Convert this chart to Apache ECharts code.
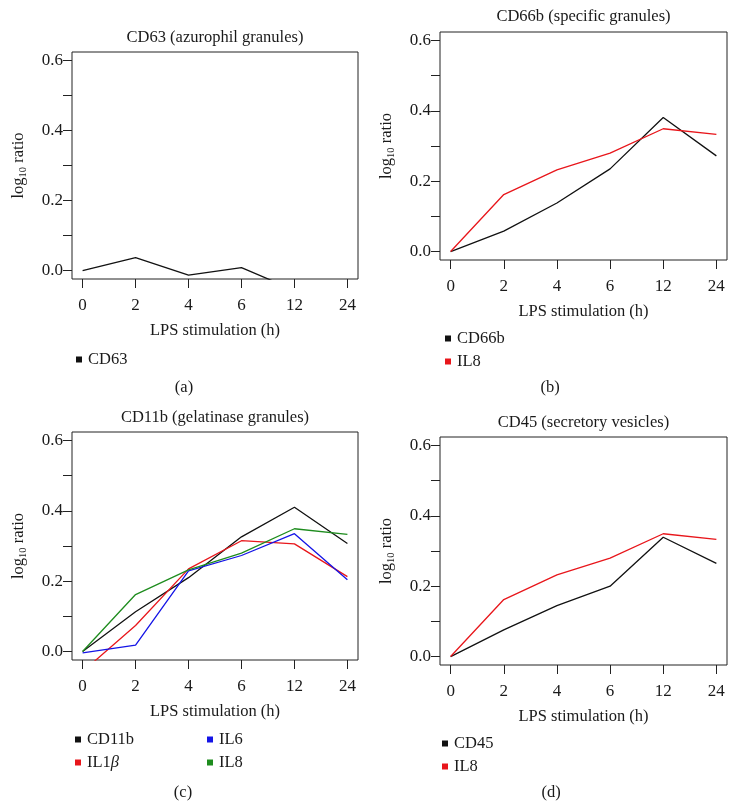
<!DOCTYPE html>
<html>
<head>
<meta charset="utf-8">
<script src="https://cdn.jsdelivr.net/npm/echarts@6/dist/echarts.min.js"></script>
<style>
html,body{margin:0;padding:0;background:#fff;}
#chart{width:738px;height:810px;}
</style>
</head>
<body>
<div id="chart"></div>
<script>
// ---- data ----
const hourLabels = ['0', '2', '4', '6', '12', '24'];
const yTickValues = [0, 0.1, 0.2, 0.3, 0.4, 0.5, 0.6];
const yLabelValues = [0, 0.2, 0.4, 0.6];
const cd63 = [0, 0.037, -0.013, 0.0085, -0.056, -0.06];
const cd66b = [0, 0.058, 0.138, 0.235, 0.381, 0.272];
const il8 = [0, 0.162, 0.232, 0.280, 0.349, 0.333];
const cd11b = [0, 0.113, 0.210, 0.326, 0.410, 0.307];
const il1b = [-0.057, 0.074, 0.235, 0.315, 0.306, 0.213];
const il6 = [-0.004, 0.018, 0.229, 0.273, 0.335, 0.204];
const cd45 = [0, 0.076, 0.145, 0.200, 0.339, 0.265];
const panelTitles = ['CD63 (azurophil granules)', 'CD66b (specific granules)', 'CD11b (gelatinase granules)', 'CD45 (secretory vesicles)'];
const panelTags = ['(a)', '(b)', '(c)', '(d)'];

// ---- style ----
const FONT = 'Liberation Serif';
const FS = 16.5;
const FS_TICK = 17;
const TXT = '#1a1a1a';
const C_BLACK = '#111111', C_RED = '#e8161b', C_BLUE = '#1414e6', C_GREEN = '#1e8c1e';

const grids = [
  {left: 72, top: 52, width: 286, height: 227},
  {left: 440, top: 32, width: 287, height: 228},
  {left: 72, top: 432, width: 286, height: 228},
  {left: 440, top: 437, width: 287, height: 228}
];

function toPts(arr) { return arr.map((v, i) => [i, v]); }

const xAxes = grids.map((g, i) => ({
  type: 'value', gridIndex: i, min: -0.2, max: 5.2,
  axisLine: {show: false, onZero: false},
  splitLine: {show: false},
  axisTick: {show: true, length: 9, inside: false, customValues: [0,1,2,3,4,5], lineStyle: {color: '#222', width: 1}},
  axisLabel: {customValues: [0,1,2,3,4,5], margin: 18, fontFamily: FONT, fontSize: FS_TICK, color: TXT,
    formatter: v => hourLabels[Math.round(v)]},
  name: 'LPS stimulation (h)', nameLocation: 'middle', nameGap: 43,
  nameTextStyle: {fontFamily: FONT, fontSize: FS, color: TXT}
}));

const yAxes = grids.map((g, i) => ({
  type: 'value', gridIndex: i, min: -0.024, max: 0.624,
  axisLine: {show: false, onZero: false},
  splitLine: {show: false},
  axisTick: {show: true, length: 9, customValues: yTickValues, lineStyle: {color: '#222', width: 1}},
  axisLabel: {customValues: yLabelValues, margin: 9, fontFamily: FONT, fontSize: FS_TICK, color: TXT,
    formatter: v => v.toFixed(1)},
  name: '{m|log}{s|10}{m| ratio}', nameLocation: 'middle', nameGap: 43, nameRotate: 90,
  nameTextStyle: {fontFamily: FONT, fontSize: FS, color: TXT,
    rich: {m: {fontFamily: FONT, fontSize: FS, color: TXT, lineHeight: 20},
           s: {fontFamily: FONT, fontSize: 10.5, color: TXT, lineHeight: 10, verticalAlign: 'bottom'}}}
}));

function line(name, data, color, gi) {
  return {type: 'line', name: name, xAxisIndex: gi, yAxisIndex: gi, data: toPts(data),
    showSymbol: false, symbol: 'none', clip: true, color: color,
    lineStyle: {color: color, width: 1.3}, itemStyle: {color: color}, animation: false, silent: true};
}

const series = [
  line('CD63', cd63, C_BLACK, 0),
  line('CD66b', cd66b, C_BLACK, 1),
  line('IL8', il8, C_RED, 1),
  line('CD11b', cd11b, C_BLACK, 2),
  line('IL1β', il1b, C_RED, 2),
  line('IL6', il6, C_BLUE, 2),
  line('IL8', il8, C_GREEN, 2),
  line('CD45', cd45, C_BLACK, 3),
  line('IL8', il8, C_RED, 3)
];

function legend(left, top, items) {
  return {left: left, top: top, orient: 'vertical', padding: 0, itemGap: 6,
    icon: 'rect', itemWidth: 6, itemHeight: 6, selectedMode: false,
    data: items,
    formatter: n => n === 'IL1β' ? '{n|IL1}{g|β}' : '{n|' + n + '}',
    textStyle: {fontFamily: FONT, fontSize: FS, color: TXT, lineHeight: 16, padding: [0, 0, 0, 1],
      rich: {n: {fontFamily: FONT, fontSize: FS, color: TXT, lineHeight: 16},
             g: {fontFamily: FONT, fontSize: FS, color: TXT, lineHeight: 16, fontStyle: 'italic'}}}};
}

const legends = [
  legend(76, 351, [{name: 'CD63', itemStyle: {color: C_BLACK}}]),
  legend(445, 330, [{name: 'CD66b', itemStyle: {color: C_BLACK}}, {name: 'IL8', itemStyle: {color: C_RED}}]),
  legend(75, 731, [{name: 'CD11b', itemStyle: {color: C_BLACK}}, {name: 'IL1β', itemStyle: {color: C_RED}}]),
  legend(207, 731, [{name: 'IL6', itemStyle: {color: C_BLUE}}, {name: 'IL8', itemStyle: {color: C_GREEN}}]),
  legend(442, 735, [{name: 'CD45', itemStyle: {color: C_BLACK}}, {name: 'IL8', itemStyle: {color: C_RED}}])
];

const titleY = [38, 17, 418, 423];
const tagPos = [[184, 388], [550, 388], [183, 793], [551, 793]];
const graphics = [];
grids.forEach((g, i) => {
  graphics.push({type: 'text', x: g.left + g.width / 2, y: titleY[i],
    style: {text: panelTitles[i], font: FS + 'px "' + FONT + '"', fill: TXT, textAlign: 'center', textVerticalAlign: 'middle'}});
  graphics.push({type: 'text', x: tagPos[i][0], y: tagPos[i][1],
    style: {text: panelTags[i], font: FS + 'px "' + FONT + '"', fill: TXT, textAlign: 'center', textVerticalAlign: 'middle'}});
});

const chart = echarts.init(document.getElementById('chart'), null, {renderer: 'canvas'});
chart.setOption({
  backgroundColor: '#fff',
  animation: false,
  grid: grids.map(g => Object.assign({show: true, borderColor: '#222', borderWidth: 1, backgroundColor: 'transparent'}, g)),
  xAxis: xAxes,
  yAxis: yAxes,
  legend: legends,
  graphic: graphics,
  series: series
});
</script>
</body>
</html>
